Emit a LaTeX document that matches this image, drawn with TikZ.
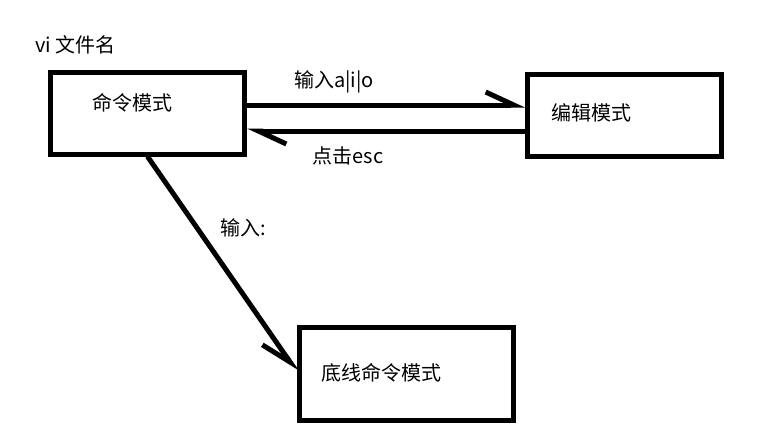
\documentclass[tikz,border=0pt]{standalone}
\usepackage{fontspec}
\setmainfont{Noto Sans CJK SC}
\usepackage{tikz}
\usetikzlibrary{arrows.meta, positioning, calc}
\definecolor{viInk}{HTML}{000000}
\tikzset{
  modebox/.style={draw=viInk, line width=5pt, inner sep=0pt, minimum width=194pt, minimum height=82pt},
  modetext/.style={font=\fontsize{20}{24}\selectfont, text=viInk, inner sep=0pt},
  modeflow/.style={draw=viInk, line width=5pt, -{Straight Barb[harpoon, length=28pt, width=26pt]}},
  modeflowswap/.style={modeflow, -{Straight Barb[harpoon, swap, length=30pt, width=26pt]}}
}

\begin{document}
\begin{tikzpicture}[x=1pt, y=-1pt]
  \useasboundingbox[fill=white] (0,0) rectangle (777,440);
  % the three modes of vi
  \node[modebox] (cmd) at (147.5,113) {};
  \node[modebox] (edit) at (624.5,115.5) {};
  \node[modebox, minimum width=214pt, minimum height=93pt] (base) at (406.5,374) {};
  \node[modetext, anchor=west] (open) at (35,45) {vi 文件名};
  \node[modetext] (cmdlbl) at (132,103) {命令模式};
  \node[modetext] (editlbl) at (591,113) {编辑模式};
  \node[modetext] (baselbl) at (381,373) {底线命令模式};
  % switching
  \draw[modeflow] ([yshift=8pt]cmd.east) -- ([yshift=8pt]cmd.east -| edit.west);
  \draw[modeflow] ([yshift=-18pt]cmd.east -| edit.west) -- ([yshift=-18pt]cmd.east);
  \draw[modeflowswap] (cmd.south) -- ([yshift=2pt]base.west);
  \node[modetext] (toedit) at (334,82) {输入a|i|o};
  \node[modetext] (toesc) at (348,156) {点击esc};
  \node[modetext] (tobase) at (243,228) {输入:};
\end{tikzpicture}
\end{document}
